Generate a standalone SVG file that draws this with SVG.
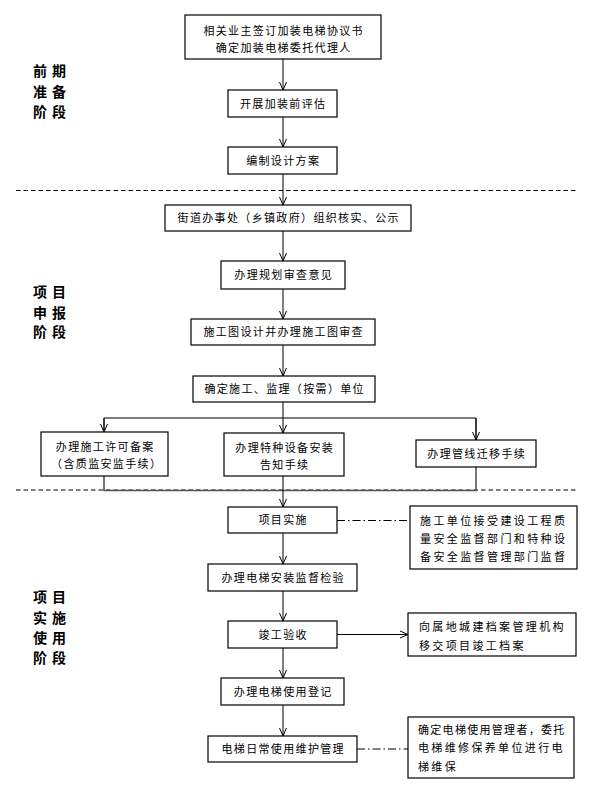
<svg xmlns="http://www.w3.org/2000/svg" width="593" height="791" viewBox="0 0 593 791">
<style>
.box{fill:#fff;stroke:#000;stroke-width:1.2}
.t{font-family:"Noto Sans CJK SC","Noto Sans CJK JP",sans-serif;font-size:11px;fill:#000;letter-spacing:1.35px;text-anchor:middle}
.n{font-family:"Noto Sans CJK SC","Noto Sans CJK JP",sans-serif;font-size:11px;fill:#000;letter-spacing:2.35px}
.s{font-family:"Noto Sans CJK SC","Noto Sans CJK JP",sans-serif;font-size:14px;font-weight:bold;fill:#000;letter-spacing:5px}
.ln{fill:none;stroke:#000;stroke-width:1}
.arr{marker-end:url(#ah)}
.dash{fill:none;stroke:#000;stroke-width:1;stroke-dasharray:4.5 3}
.dd{fill:none;stroke:#000;stroke-width:1;stroke-dasharray:8 3 1.5 3}
</style>
<defs>
<marker id="ah" viewBox="-9 -5 10 10" refX="0" refY="0" markerWidth="10" markerHeight="10" markerUnits="userSpaceOnUse" orient="auto">
<path d="M-8,-3.5 L0,0 L-8,3.5" fill="none" stroke="#000" stroke-width="1"/>
</marker>
</defs>
<rect width="593" height="791" fill="#fff"/>

<g id="phases">
<text class="s" x="33" y="76">前期</text>
<text class="s" x="33" y="97">准备</text>
<text class="s" x="33" y="117">阶段</text>
<text class="s" x="33" y="297">项目</text>
<text class="s" x="33" y="318">申报</text>
<text class="s" x="33" y="337">阶段</text>
<text class="s" x="33" y="602">项目</text>
<text class="s" x="33" y="623">实施</text>
<text class="s" x="33" y="643">使用</text>
<text class="s" x="33" y="663">阶段</text>
</g>

<g id="dividers">
<line class="dash" x1="16" y1="190.5" x2="577" y2="190.5"/>
<line class="dash" x1="16" y1="490" x2="577" y2="490"/>
</g>

<g id="connectors">
<line class="ln arr" x1="283" y1="59" x2="283" y2="90"/>
<line class="ln arr" x1="283" y1="117" x2="283" y2="147"/>
<line class="ln arr" x1="283" y1="174" x2="283" y2="205"/>
<line class="ln arr" x1="283" y1="231" x2="283" y2="261"/>
<line class="ln arr" x1="283" y1="289" x2="283" y2="319"/>
<line class="ln arr" x1="283" y1="345" x2="283" y2="376"/>
<line class="ln" x1="283" y1="402" x2="283" y2="418"/>
<polyline class="ln" points="104,432 104,418 476,418 476,440"/>
<line class="ln arr" x1="104" y1="418" x2="104" y2="432"/>
<line class="ln arr" x1="283" y1="418" x2="283" y2="433"/>
<line class="ln arr" x1="476" y1="418" x2="476" y2="440"/>
<polyline points="104,476 104,490.5 476,490.5 476,467" fill="none" stroke="#555" stroke-width="1.6"/>
<line class="ln arr" x1="283" y1="476" x2="283" y2="507"/>
<line class="dd" x1="337" y1="520.5" x2="410" y2="520.5"/>
<line class="ln arr" x1="283" y1="533" x2="283" y2="564"/>
<line class="ln arr" x1="283" y1="591" x2="283" y2="621"/>
<line class="ln arr" x1="337" y1="634.5" x2="408" y2="634.5"/>
<line class="ln arr" x1="283" y1="648" x2="283" y2="678"/>
<line class="ln arr" x1="283" y1="705" x2="283" y2="736"/>
<line class="dd" x1="357" y1="749" x2="408" y2="749"/>
</g>

<g id="n1"><rect class="box" x="185" y="15" width="196" height="44"/>
<text class="t" x="283.7" y="35">相关业主签订加装电梯协议书</text>
<text class="t" x="283.7" y="52">确定加装电梯委托代理人</text></g>
<g id="n2"><rect class="box" x="228" y="90" width="109" height="27"/>
<text class="t" x="283.2" y="107.5">开展加装前评估</text></g>
<g id="n3"><rect class="box" x="228" y="147" width="109" height="27"/>
<text class="t" x="283.2" y="164.5">编制设计方案</text></g>
<g id="n4"><rect class="box" x="165" y="205" width="246" height="26"/>
<text class="t" x="288.7" y="222">街道办事处（乡镇政府）组织核实、公示</text></g>
<g id="n5"><rect class="box" x="221" y="261" width="124" height="28"/>
<text class="t" x="283.7" y="279">办理规划审查意见</text></g>
<g id="n6"><rect class="box" x="191" y="319" width="184" height="26"/>
<text class="t" x="283.7" y="336">施工图设计并办理施工图审查</text></g>
<g id="n7"><rect class="box" x="193" y="376" width="182" height="26"/>
<text class="t" x="284.7" y="393">确定施工、监理（按需）单位</text></g>
<g id="n8"><rect class="box" x="41" y="432" width="127" height="44"/>
<text class="t" x="105.2" y="450.5">办理施工许可备案</text>
<text class="t" x="106.7" y="468">（含质监安监手续）</text></g>
<g id="n9"><rect class="box" x="224" y="433" width="120" height="43"/>
<text class="t" x="284.7" y="452">办理特种设备安装</text>
<text class="t" x="284.7" y="469">告知手续</text></g>
<g id="n10"><rect class="box" x="416" y="440" width="120" height="27"/>
<text class="t" x="476.7" y="457.5">办理管线迁移手续</text></g>
<g id="n11"><rect class="box" x="228" y="507" width="109" height="26"/>
<text class="t" x="283.2" y="524">项目实施</text></g>
<g id="note1"><rect class="box" x="410" y="506" width="167" height="63"/>
<text class="n" x="420" y="524.5" style="letter-spacing:2.4px">施工单位接受建设工程质</text>
<text class="n" x="420" y="543" style="letter-spacing:2.4px">量安全监督部门和特种设</text>
<text class="n" x="420" y="561.3" style="letter-spacing:2.4px">备安全监督管理部门监督</text></g>
<g id="n12"><rect class="box" x="208" y="564" width="149" height="27"/>
<text class="t" x="283.2" y="581.5">办理电梯安装监督检验</text></g>
<g id="n13"><rect class="box" x="228" y="621" width="109" height="27"/>
<text class="t" x="283.2" y="638.5">竣工验收</text></g>
<g id="note2"><rect class="box" x="408" y="613" width="168" height="43"/>
<text class="n" x="419" y="630.5">向属地城建档案管理机构</text>
<text class="n" x="419" y="650">移交项目竣工档案</text></g>
<g id="n14"><rect class="box" x="221" y="678" width="123" height="27"/>
<text class="t" x="283.2" y="695.5">办理电梯使用登记</text></g>
<g id="n15"><rect class="box" x="208" y="736" width="149" height="26"/>
<text class="t" x="283.2" y="753">电梯日常使用维护管理</text></g>
<g id="note3"><rect class="box" x="408" y="717" width="166" height="61"/>
<text class="n" x="418" y="734" style="letter-spacing:1.3px">确定电梯使用管理者，委托</text>
<text class="n" x="418" y="752">电梯维修保养单位进行电</text>
<text class="n" x="418" y="770.5">梯维保</text></g>
</svg>
